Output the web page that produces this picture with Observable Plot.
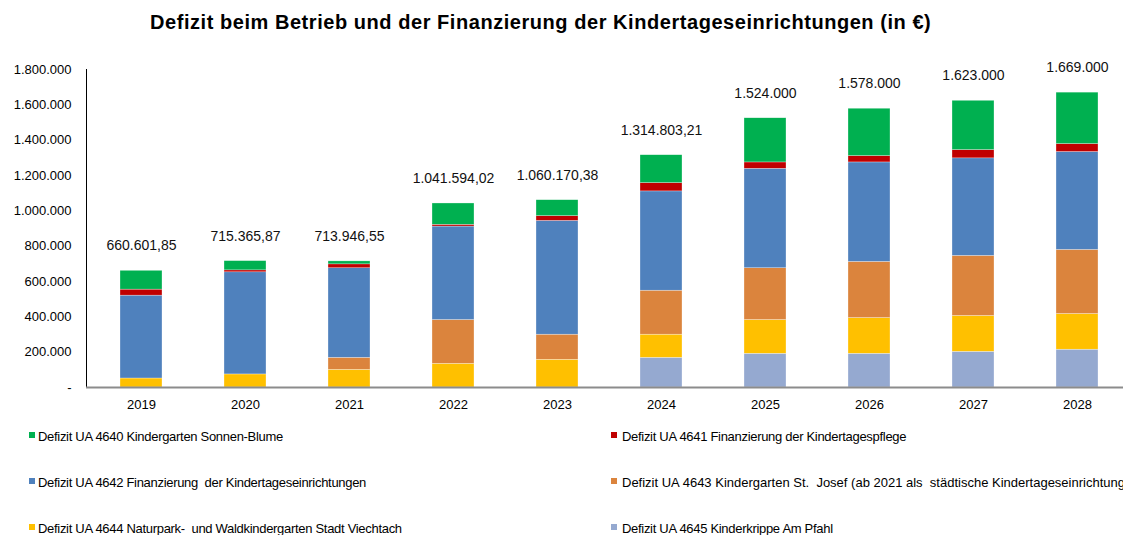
<!DOCTYPE html>
<html>
<head>
<meta charset="utf-8">
<script src="https://cdn.jsdelivr.net/npm/d3@7"></script>
<script src="https://cdn.jsdelivr.net/npm/@observablehq/plot@0.6"></script>
<style>
  html, body { margin: 0; padding: 0; background: #fff; }
  body { width: 1123px; height: 535px; overflow: hidden; position: relative; font-family: "Liberation Sans", Arial, sans-serif; color: #000; }
  #title { height: 50px; position: relative; }
  #title span { position: absolute; left: 150px; top: 11px; font-weight: bold; font-size: 20px; white-space: nowrap; letter-spacing: 0.55px; }
  #chart svg { display: block; }
  #legend { position: relative; height: 110px; }
  .item { position: absolute; white-space: pre; font-size: 13px; letter-spacing: -0.3px; line-height: 16px; }
  .sw { position: absolute; width: 6px; height: 6px; }
</style>
</head>
<body>
<div id="title"><span>Defizit beim Betrieb und der Finanzierung der Kindertageseinrichtungen (in €)</span></div>
<div id="chart"></div>
<div id="legend"></div>
<script>
// ---- data (values in €) ----
const years = ["2019","2020","2021","2022","2023","2024","2025","2026","2027","2028"];

const seriesNames = [
  "Defizit UA 4640 Kindergarten Sonnen-Blume",
  "Defizit UA 4641 Finanzierung der Kindertagespflege",
  "Defizit UA 4642 Finanzierung  der Kindertageseinrichtungen",
  "Defizit UA 4643 Kindergarten St.  Josef (ab 2021 als  städtische Kindertageseinrichtung)",
  "Defizit UA 4644 Naturpark-  und Waldkindergarten Stadt Viechtach",
  "Defizit UA 4645 Kinderkrippe Am Pfahl"
];
const seriesColors = ["#00B050", "#C00000", "#4F81BD", "#DB843D", "#FFC000", "#95A9D0"];

const ua4640 = [106600, 52400, 16900, 120600, 90200, 157800, 250000, 268000, 279000, 291000];
const ua4641 = [34000, 11000, 22000, 10000, 27000, 47000, 36000, 36000, 47000, 45000];
const ua4642 = [469000, 578000, 507000, 529000, 644000, 562000, 563000, 563000, 552000, 554000];
const ua4643 = [0, 0, 68000, 248000, 142000, 249000, 293000, 318000, 340000, 363000];
const ua4644 = [51000, 74000, 100000, 134000, 157000, 131000, 191000, 202000, 203000, 202000];
const ua4645 = [0, 0, 0, 0, 0, 168000, 191000, 191000, 202000, 214000];

const totalLabels = ["660.601,85","715.365,87","713.946,55","1.041.594,02","1.060.170,38","1.314.803,21","1.524.000","1.578.000","1.623.000","1.669.000"];

const yTicks = [0, 200000, 400000, 600000, 800000, 1000000, 1200000, 1400000, 1600000, 1800000];
const yTickLabels = ["-", "200.000", "400.000", "600.000", "800.000", "1.000.000", "1.200.000", "1.400.000", "1.600.000", "1.800.000"];

// ---- build tables (stack order bottom -> top) ----
const stackSeries = [
  [seriesNames[5], ua4645],
  [seriesNames[4], ua4644],
  [seriesNames[3], ua4643],
  [seriesNames[2], ua4642],
  [seriesNames[1], ua4641],
  [seriesNames[0], ua4640]
];
const data = [];
for (const [name, vals] of stackSeries) {
  years.forEach((y, i) => data.push({year: y, series: name, value: vals[i]}));
}
const totals = years.map((y, i) => ({
  year: y,
  total: stackSeries.reduce((s, [, v]) => s + v[i], 0),
  label: totalLabels[i]
}));

const chart = Plot.plot({
  width: 1123,
  height: 375,
  marginTop: 19,
  marginBottom: 38,
  marginLeft: 86,
  marginRight: 0,
  style: {fontFamily: "'Liberation Sans', Arial, sans-serif", fontSize: "13px", background: "#fff", color: "#000"},
  x: {domain: years, range: [84.75, 1133.75], paddingInner: 0.6, paddingOuter: 0.3, label: null, tickSize: 0, tickPadding: 12},
  y: {domain: [0, 1800000], ticks: yTicks, tickFormat: d => yTickLabels[yTicks.indexOf(d)], label: null, tickSize: 0, tickPadding: 15, line: true},
  color: {domain: seriesNames, range: seriesColors},
  marks: [
    Plot.barY(data, {x: "year", y: "value", fill: "series", stroke: "#ffffff", strokeOpacity: 0.6, strokeWidth: 0.5}),
    Plot.ruleY([0], {stroke: "#8c8c8c", strokeWidth: 2}),
    Plot.text(totals, {x: "year", y: "total", text: "label", dy: -25, fontSize: 14, fill: "#111"})
  ]
});
document.getElementById("chart").appendChild(chart);

// ---- legend (HTML, below the SVG) ----
const legendOrder = [0, 1, 2, 3, 4, 5];
const colX = [29, 611];
const textX = [38, 622];
const rowY = [4, 50, 96];
const legend = document.getElementById("legend");
legendOrder.forEach((si, k) => {
  const col = k % 2, row = Math.floor(k / 2);
  const sw = document.createElement("div");
  sw.className = "sw";
  sw.style.left = colX[col] + "px";
  sw.style.top = (rowY[row] + 3) + "px";
  sw.style.background = seriesColors[si];
  legend.appendChild(sw);
  const t = document.createElement("div");
  t.className = "item";
  t.style.left = textX[col] + "px";
  t.style.top = rowY[row] + "px";
  if (si === 3) t.style.letterSpacing = "0px";
  t.textContent = seriesNames[si];
  legend.appendChild(t);
});
</script>
</body>
</html>
